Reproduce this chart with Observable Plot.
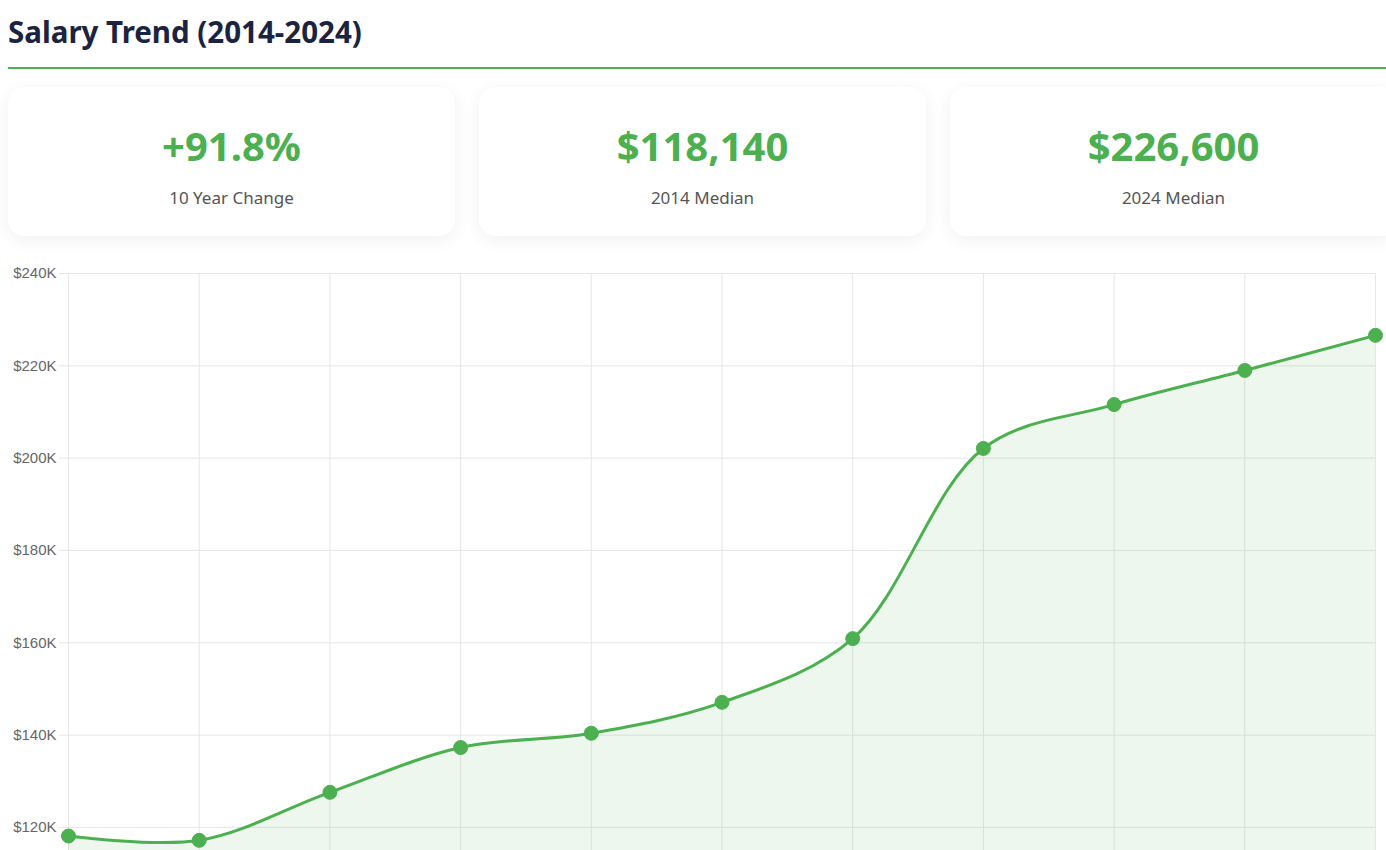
<!DOCTYPE html>
<html>
<head>
<meta charset="utf-8">
<script src="https://cdn.jsdelivr.net/npm/d3@7"></script>
<script src="https://cdn.jsdelivr.net/npm/@observablehq/plot@0.6"></script>
<style>
  html, body { margin: 0; padding: 0; background: #fff; overflow: hidden; }
  .wrap { width: 1390px; padding-left: 8px; box-sizing: border-box; font-family: "Noto Sans", "Open Sans", sans-serif; }
  h2 { margin: 0; padding-top: 14px; padding-bottom: 17px; font-size: 29.5px; line-height: 36px; font-weight: 700; color: #1a2340; border-bottom: 2px solid #4caf50; }
  .cards { display: flex; gap: 24px; margin-top: 18px; }
  .card { width: 447px; flex: none; height: 149px; background: #fff; border-radius: 16px; box-shadow: 0 4px 18px rgba(0,0,0,0.06); text-align: center; position: relative; }
  .card .v { position: absolute; left: 0; right: 0; top: 35px; font-size: 40px; line-height: 48px; font-weight: 700; color: #4caf50; }
  .card .l { position: absolute; left: 0; right: 0; top: 99px; font-size: 17px; line-height: 24px; color: #555; }
  #chart { margin-top: 19px; margin-left: -8px; height: 595px; }
  #chart svg { display: block; }
</style>
</head>
<body>
<div class="wrap">
  <h2 id="title"></h2>
  <div class="cards" id="cards"></div>
  <div id="chart"></div>
</div>
<script>
const titleText = "Salary Trend (2014-2024)";
const cardValues = ["+91.8%", "$118,140", "$226,600"];
const cardLabels = ["10 Year Change", "2014 Median", "2024 Median"];
const years = [2014, 2015, 2016, 2017, 2018, 2019, 2020, 2021, 2022, 2023, 2024];
const salaries = [118140, 117200, 127600, 137300, 140400, 147100, 160900, 202100, 211600, 219000, 226600];
const yTicks = [120000, 140000, 160000, 180000, 200000, 220000, 240000];
const yLow = 115000; // lower edge of the visible plot (chart continues below the page)

document.getElementById("title").textContent = titleText;
const cards = document.getElementById("cards");
cardValues.forEach((v, i) => {
  const c = document.createElement("div");
  c.className = "card";
  c.innerHTML = `<div class="v"></div><div class="l"></div>`;
  c.querySelector(".v").textContent = v;
  c.querySelector(".l").textContent = cardLabels[i];
  cards.appendChild(c);
});

const data = years.map((y, i) => ({year: y, salary: salaries[i]}));
const yMax = yTicks[yTicks.length - 1];
const green = "#4caf50";
const grid = "#e6e6e6";

const chart = Plot.plot({
  width: 1386,
  height: 595,
  marginLeft: 68,
  marginRight: 11,
  marginTop: 18,
  marginBottom: 0,
  style: {fontFamily: "'Liberation Sans', Arial, sans-serif", fontSize: "15px", background: "transparent", overflow: "visible"},
  x: {type: "linear", domain: [years[0], years[years.length - 1]], axis: null},
  y: {domain: [yLow, yMax], label: null, axis: null},
  marks: [
    Plot.gridX(years, {stroke: grid, strokeOpacity: 1}),
    Plot.gridY(yTicks, {stroke: grid, strokeOpacity: 1}),
    Plot.ruleX([years[years.length - 1]], {stroke: grid}),
    Plot.ruleY([yMax], {stroke: grid}),
    Plot.axisY(yTicks, {tickSize: 9, tickPadding: 3, stroke: grid, fill: "#666", tickFormat: d => "$" + d / 1000 + "K", fontSize: 15, label: null}),
    Plot.areaY(data, {x: "year", y1: yLow, y2: "salary", fill: green, fillOpacity: 0.1, curve: "catmull-rom"}),
    Plot.line(data, {x: "year", y: "salary", stroke: green, strokeWidth: 3, curve: "catmull-rom"}),
    Plot.dot(data, {x: "year", y: "salary", r: 7, fill: green, stroke: green, strokeWidth: 1})
  ]
});
document.getElementById("chart").appendChild(chart);
</script>
</body>
</html>
